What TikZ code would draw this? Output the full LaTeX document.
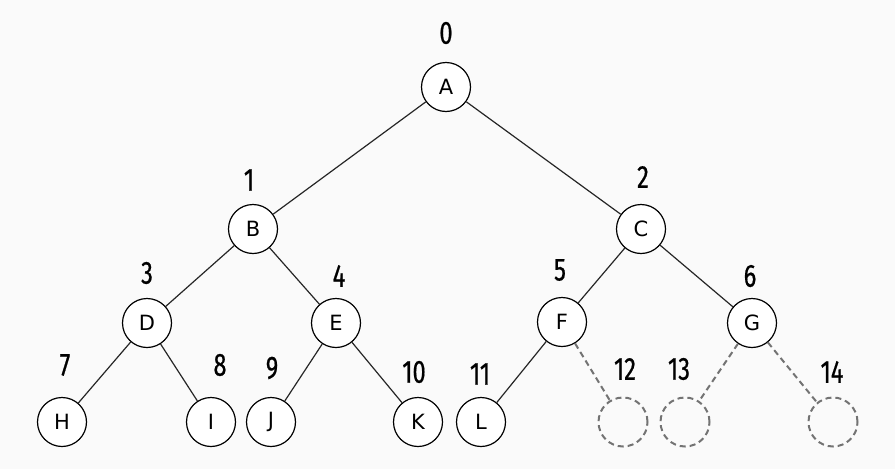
\documentclass[tikz,border=0pt]{standalone}
\usepackage{fontspec}
\setmainfont{DejaVu Sans}
\newfontfamily\numfont[FakeStretch=0.74,FakeBold=0.6]{Fira Sans}
\begin{document}
\begin{tikzpicture}[x=1pt,y=-1pt,
  vtx/.style={circle,draw=black,line width=1.2pt,fill=white,minimum size=49pt,inner sep=0pt,font=\fontsize{21}{21}\selectfont},
  ghost/.style={circle,draw=black!55,dashed,dash pattern=on 6pt off 4pt,line width=2pt,minimum size=49pt,inner sep=0pt},
  edge/.style={line width=1.2pt,draw=black!85},
  gedge/.style={line width=2pt,draw=black!55,dash pattern=on 6pt off 4pt},
  num/.style={font=\numfont\fontsize{32}{32}\selectfont,inner sep=0pt}]
\fill[black!2] (0,0) rectangle (895,469);
\useasboundingbox (0,0) rectangle (895,469);
\node[vtx] (A) at (446,87) {A};
\node[vtx] (B) at (253,229) {B};
\node[vtx] (C) at (641,229) {C};
\node[vtx] (D) at (147,323) {D};
\node[vtx] (E) at (336,323) {E};
\node[vtx] (F) at (562,322) {F};
\node[vtx] (G) at (752,323) {G};
\node[vtx] (H) at (62,422) {H};
\node[vtx] (I) at (211,422) {I};
\node[vtx] (J) at (271,422) {J};
\node[vtx] (K) at (418,422) {K};
\node[vtx] (L) at (481,422) {L};
\node[ghost] (N12) at (623,422) {};
\node[ghost] (N13) at (685,422) {};
\node[ghost] (N14) at (833,422) {};
\draw[edge] (A) -- (B);
\draw[edge] (A) -- (C);
\draw[edge] (B) -- (D);
\draw[edge] (B) -- (E);
\draw[edge] (C) -- (F);
\draw[edge] (C) -- (G);
\draw[edge] (D) -- (H);
\draw[edge] (D) -- (I);
\draw[edge] (E) -- (J);
\draw[edge] (E) -- (K);
\draw[edge] (F) -- (L);
\draw[gedge] (F) -- (N12);
\draw[gedge] (G) -- (N13);
\draw[gedge] (G) -- (N14);
\node[num] (l0) at (446,33) {0};
\node[num] (l1) at (249,180) {1};
\node[num] (l2) at (643,177) {2};
\node[num] (l3) at (147,273) {3};
\node[num] (l4) at (339,276) {4};
\node[num] (l5) at (560,270) {5};
\node[num] (l6) at (750,276) {6};
\node[num] (l7) at (65,365) {7};
\node[num] (l8) at (220,365) {8};
\node[num] (l9) at (272,368) {9};
\node[num] (l10) at (414,372) {10};
\node[num] (l11) at (480,374) {11};
\node[num] (l12) at (625,369) {12};
\node[num] (l13) at (679,369) {13};
\node[num] (l14) at (832,372) {14};
\end{tikzpicture}
\end{document}
